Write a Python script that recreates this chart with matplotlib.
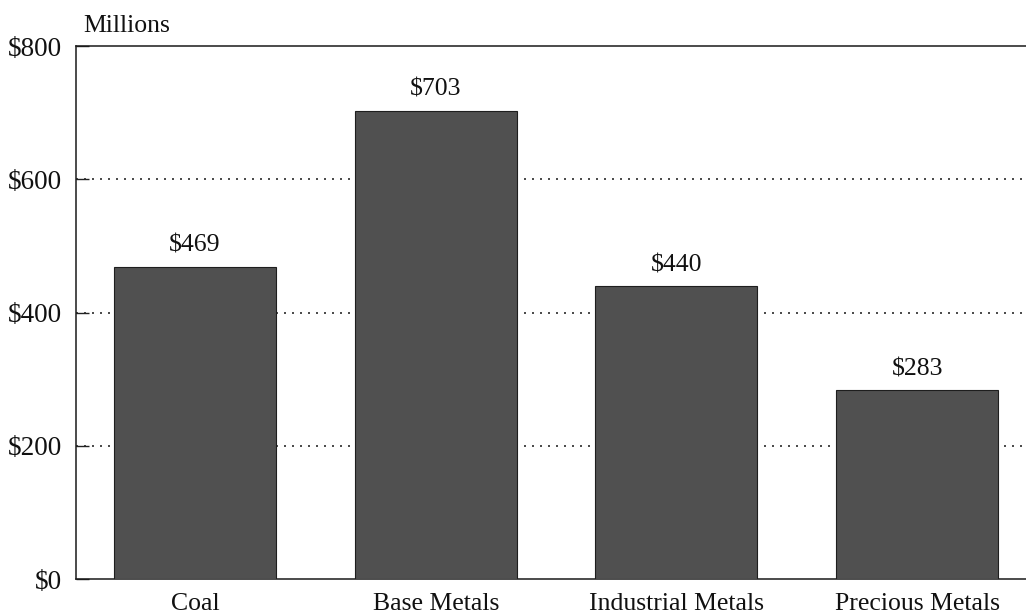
import numpy as np
import matplotlib
matplotlib.use("Agg")
import matplotlib.pyplot as plt

categories = ["Coal", "Base Metals", "Industrial Metals", "Precious Metals"]
values = [469, 703, 440, 283]
yticks = [0, 200, 400, 600, 800]
ytick_labels = ["$0", "$200", "$400", "$600", "$800"]

plt.rcParams["font.family"] = ["Liberation Serif", "DejaVu Serif"]
plt.rcParams["font.size"] = 18.5

fig = plt.figure(figsize=(10.26, 6.15), dpi=100)
ax = fig.add_axes([0.0741, 0.0585, 0.9259, 0.8667])

x = np.arange(len(categories))
bars = ax.bar(x, values, width=0.673, color="#505050", edgecolor="#1e1e1e",
              linewidth=0.8, zorder=3)

for xi, v in zip(x, values):
    ax.annotate(f"${v}", xy=(xi, v), xytext=(0, 7), textcoords="offset points",
                ha="center", va="bottom", color="#111111")

ax.set_xlim(-0.494, 3.452)
ax.set_ylim(0, 800)
ax.set_xticks(x)
ax.set_xticklabels(categories, color="#111111")
ax.set_yticks(yticks)
ax.set_yticklabels(ytick_labels, color="#111111", fontsize=19.5)

# dotted gridlines only in between, spines carry 0 and 800
for yv in yticks[1:-1]:
    ax.axhline(yv, color="#2a2a2a", linewidth=1.2, linestyle=(0, (1.2, 3.6)), zorder=1)

ax.tick_params(axis="y", direction="in", length=9, width=1.0, pad=10, color="#222222")
ax.tick_params(axis="x", length=0, pad=10)

ax.spines["right"].set_visible(False)
for s in ["left", "bottom", "top"]:
    ax.spines[s].set_linewidth(1.1)
    ax.spines[s].set_color("#1a1a1a")

ax.annotate("Millions", xy=(0, 1), xycoords="axes fraction", xytext=(5, 10),
            textcoords="offset points", ha="left", va="baseline", color="#111111")

fig.savefig("out.png", dpi=100)
